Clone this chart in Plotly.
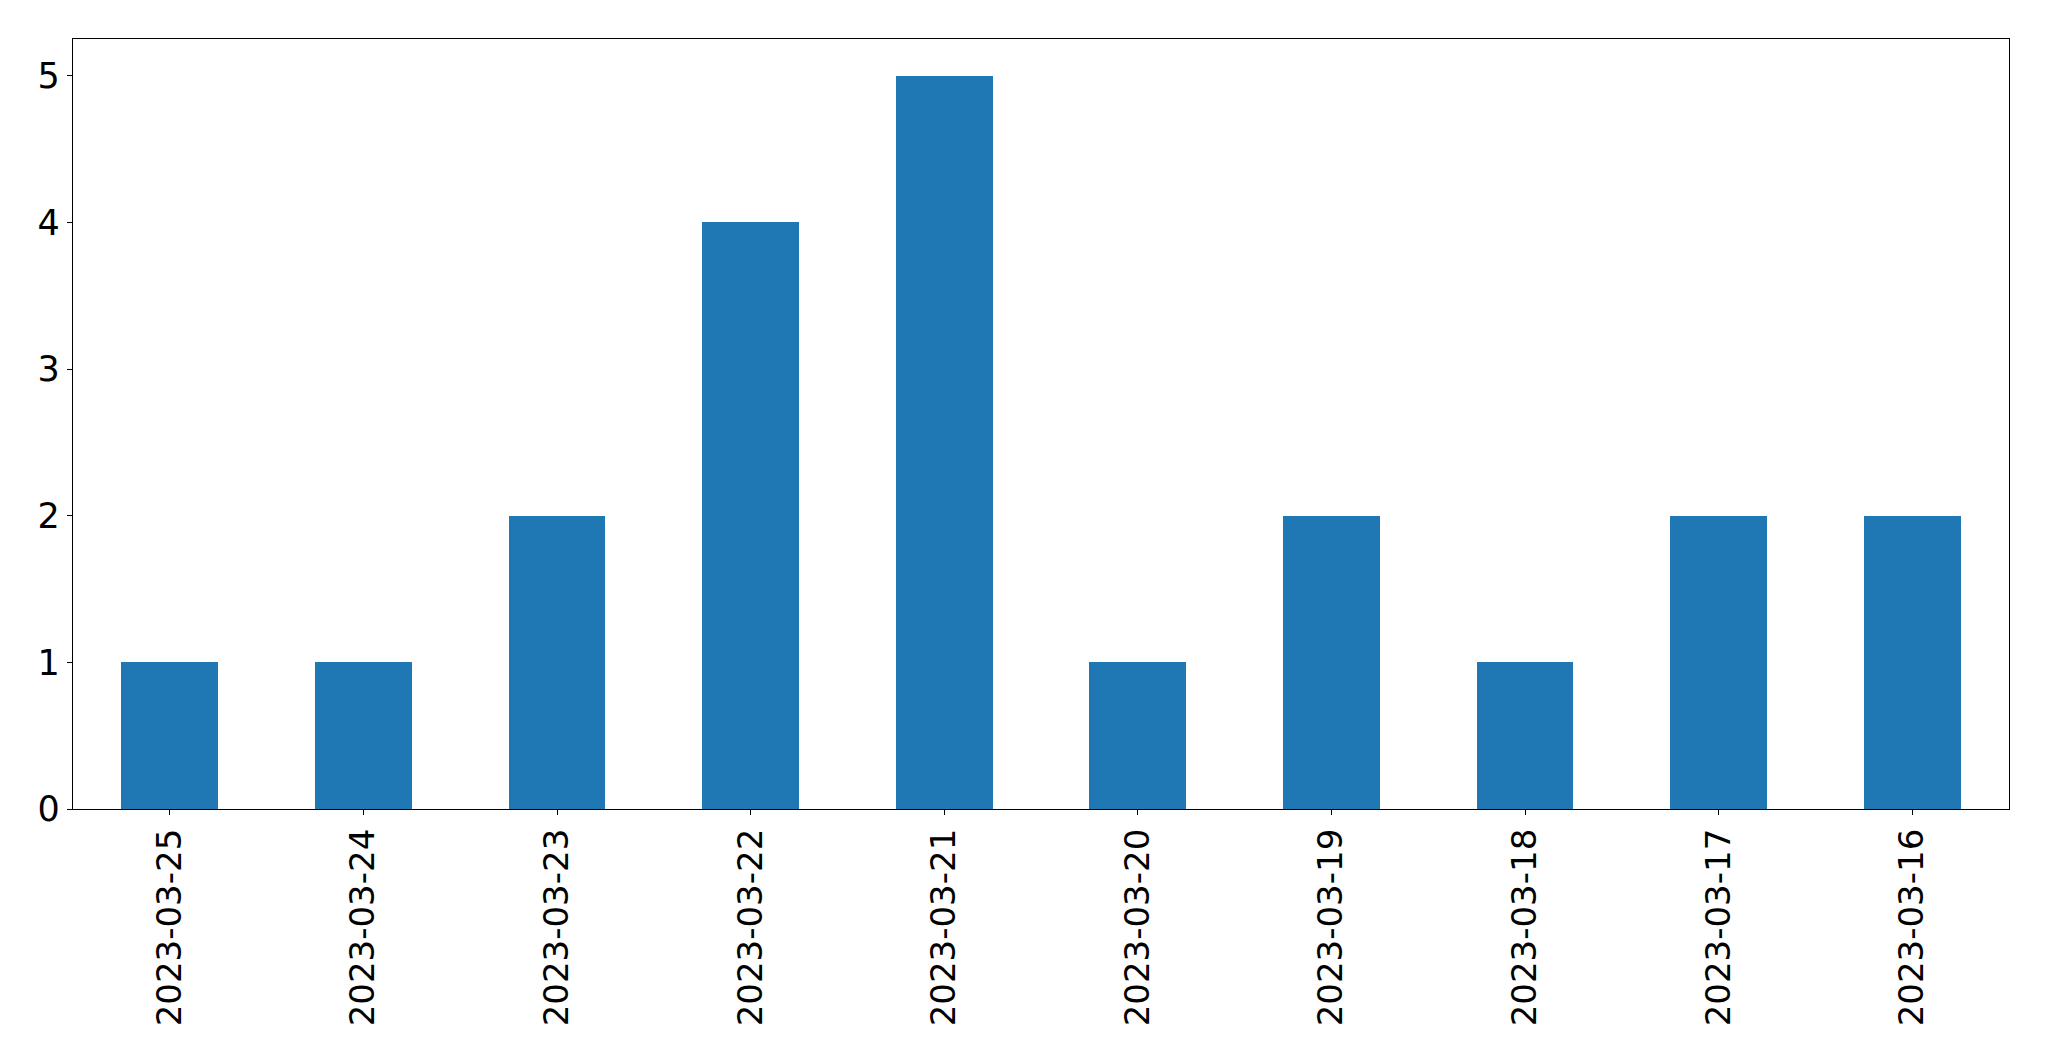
import plotly.graph_objects as go

dates = ["2023-03-25", "2023-03-24", "2023-03-23", "2023-03-22", "2023-03-21",
         "2023-03-20", "2023-03-19", "2023-03-18", "2023-03-17", "2023-03-16"]
counts = [1, 1, 2, 4, 5, 1, 2, 1, 2, 2]
y_ticks = [0, 1, 2, 3, 4, 5]

fig = go.Figure(go.Bar(x=list(range(len(dates))), y=counts, width=0.5,
                       marker=dict(color="#1f77b4", line=dict(width=0))))

axis_common = dict(showline=True, linecolor="black", linewidth=1.3, mirror=True,
                   ticks="outside", ticklen=5, tickwidth=1.3, tickcolor="black",
                   showgrid=False, zeroline=False)

fig.update_layout(
    width=2033, height=1045,
    margin=dict(l=65, r=32, t=31, b=244),
    paper_bgcolor="white", plot_bgcolor="white",
    showlegend=False,
    bargap=0,
    xaxis=dict(range=[-0.5, len(dates) - 0.5], tickmode="array",
               tickvals=list(range(len(dates))), ticktext=dates, tickangle=-90,
               tickfont=dict(family="DejaVu Sans", size=34, color="black"),
               **axis_common),
    yaxis=dict(range=[0, 5.25], tickmode="array", tickvals=y_ticks,
               ticktext=[str(v) for v in y_ticks],
               tickfont=dict(family="DejaVu Sans", size=35, color="black"),
               **axis_common),
)

fig.write_html("out.html")
